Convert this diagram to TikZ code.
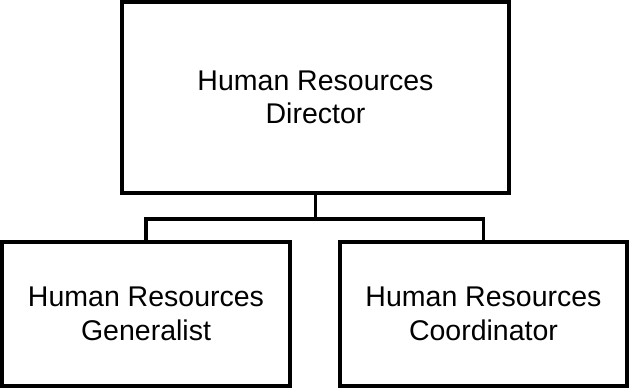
\documentclass[tikz,border=0pt]{standalone}
\usepackage{fontspec}
\setmainfont{Liberation Sans}
\begin{document}
\begin{tikzpicture}[x=1pt,y=-1pt,
  box/.style={draw=black, line width=3.5pt, fill=white, inner sep=0pt, outer sep=0pt,
    align=center, font=\fontsize{28.5}{33.5}\selectfont},
  conn/.style={draw=black, line width=3.5pt}]
\useasboundingbox (0,0) rectangle (629,388);
\node[box, minimum width=387pt, minimum height=191pt] (top) at (315.5,97.5) {\raisebox{-2pt}[0pt][0pt]{}Human Resources\\Director};
\node[box, minimum width=288pt, minimum height=144pt] (left) at (146,314) {Human Resources\\Generalist};
\node[box, minimum width=287pt, minimum height=144pt] (right) at (483.5,314) {Human Resources\\Coordinator};
\coordinate (mid) at (315.5,219);
\draw[conn] (top.south) -- (mid);
\draw[conn] (left.north) |- (mid) -| (right.north);
\end{tikzpicture}
\end{document}
